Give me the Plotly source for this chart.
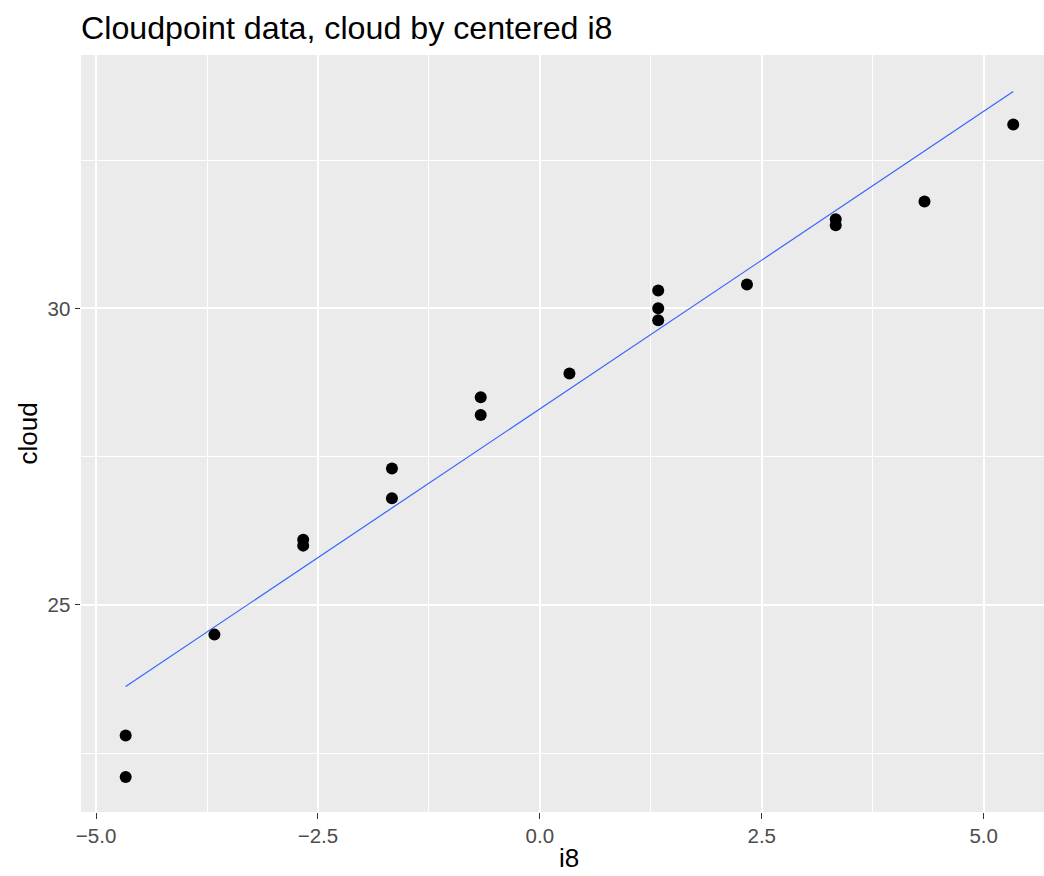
import numpy as np
import plotly.graph_objects as go

# Cloudpoint data: i8 level and measured cloud point
i8 = [0, 0, 1, 2, 2, 3, 3, 4, 4, 5, 6, 6, 6, 7, 8, 8, 9, 10]
cloud = [22.1, 22.8, 24.5, 26.1, 26.0, 27.3, 26.8, 28.5, 28.2, 28.9,
         30.3, 30.0, 29.8, 30.4, 31.5, 31.4, 31.8, 33.1]

x_tick_vals = [-5.0, -2.5, 0.0, 2.5, 5.0]
x_tick_text = ["\u22125.0", "\u22122.5", "0.0", "2.5", "5.0"]
x_minor_vals = [-3.75, -1.25, 1.25, 3.75]
y_tick_vals = [25, 30]
y_tick_text = ["25", "30"]
y_minor_vals = [22.5, 27.5, 32.5]

# Center i8 on its mean
i8_arr = np.array(i8, dtype=float)
xc = i8_arr - i8_arr.mean()
y = np.array(cloud, dtype=float)

# Least-squares line over the observed range
slope, intercept = np.polyfit(xc, y, 1)
x_line = np.array([xc.min(), xc.max()])
y_line = intercept + slope * x_line

FONT = "Liberation Sans, Arial, sans-serif"
W, H = 1044, 876
ML, MR, MT, MB = 81, 0, 55, 64

fig = go.Figure()
fig.add_trace(go.Scatter(
    x=x_line, y=y_line, mode="lines",
    line=dict(color="#3366FF", width=1.2), hoverinfo="skip",
))
fig.add_trace(go.Scatter(
    x=xc, y=y, mode="markers",
    marker=dict(color="black", size=12, line=dict(width=0)),
))

axis_common = dict(
    showline=False, zeroline=False,
    showgrid=True, gridcolor="white", gridwidth=2.2,
    ticks="outside", ticklen=5.5, tickwidth=1.1, tickcolor="#333333",
    tickfont=dict(family=FONT, size=20.5, color="#4D4D4D"),
    tickmode="array",
)

fig.update_layout(
    width=W, height=H,
    margin=dict(l=ML, r=MR, t=MT, b=MB, pad=0),
    paper_bgcolor="white", plot_bgcolor="#EBEBEB",
    showlegend=False,
    title=dict(
        text="Cloudpoint data, cloud by centered i8",
        font=dict(family=FONT, size=32.2, color="black"),
        xref="paper", x=0, xanchor="left",
        yref="container", y=1 - 28 / H, yanchor="middle",
    ),
    xaxis=dict(
        **axis_common,
        range=[-5.17, 5.68],
        tickvals=x_tick_vals, ticktext=x_tick_text,
        minor=dict(tickvals=x_minor_vals, showgrid=True,
                   gridcolor="white", gridwidth=1.1),
    ),
    yaxis=dict(
        **axis_common,
        range=[21.51, 34.27],
        tickvals=y_tick_vals, ticktext=y_tick_text,
        minor=dict(tickvals=y_minor_vals, showgrid=True,
                   gridcolor="white", gridwidth=1.1),
    ),
    annotations=[
        dict(text="i8", xref="paper", yref="paper",
             x=(569 - ML) / (W - ML - MR), y=-(858 - (H - MB)) / (H - MT - MB),
             xanchor="center", yanchor="middle", showarrow=False,
             font=dict(family=FONT, size=26, color="black")),
        dict(text="cloud", xref="paper", yref="paper",
             x=-(ML - 27) / (W - ML - MR), y=0.5,
             xanchor="center", yanchor="middle", textangle=-90, showarrow=False,
             font=dict(family=FONT, size=26, color="black")),
    ],
)

fig.write_html("out.html")
